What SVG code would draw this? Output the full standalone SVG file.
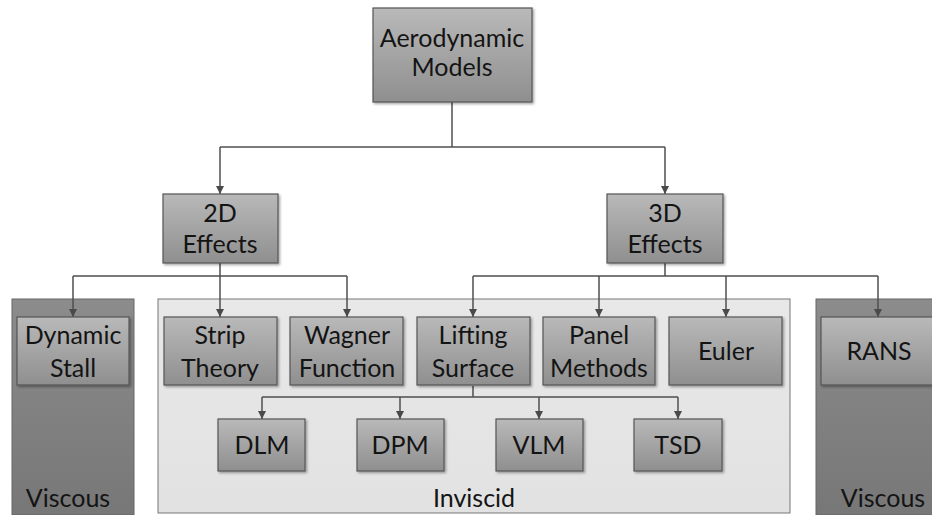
<svg xmlns="http://www.w3.org/2000/svg" width="932" height="515" viewBox="0 0 932 515">
<defs>
  <linearGradient id="boxg" x1="0" y1="0" x2="0" y2="1">
    <stop offset="0" stop-color="#b9b9b9"/>
    <stop offset="1" stop-color="#8f8f8f"/>
  </linearGradient>
  <linearGradient id="visg" x1="0" y1="0" x2="0" y2="1">
    <stop offset="0" stop-color="#8c8c8c"/>
    <stop offset="1" stop-color="#777777"/>
  </linearGradient>
  <linearGradient id="invg" x1="0" y1="0" x2="0" y2="1">
    <stop offset="0" stop-color="#e8e8e8"/>
    <stop offset="1" stop-color="#e2e2e2"/>
  </linearGradient>
  <filter id="sh" x="-10%" y="-10%" width="130%" height="130%">
    <feDropShadow dx="1.5" dy="1.5" stdDeviation="1" flood-color="#000" flood-opacity="0.35"/>
  </filter>
  <marker id="ah" viewBox="0 0 10 10" refX="10" refY="5" markerWidth="8" markerHeight="8" markerUnits="userSpaceOnUse" orient="auto">
    <path d="M0,0 L10,5 L0,10 z" fill="#4a4a4a"/>
  </marker>
</defs>
<style>
  .box { fill: url(#boxg); stroke: #555; stroke-width: 1.2; filter: url(#sh); }
  .vis { fill: url(#visg); stroke: #666; stroke-width: 1; }
  .inv { fill: url(#invg); stroke: #777; stroke-width: 1; }
  .t { font-family: Lato, "Liberation Sans", sans-serif; font-size: 25px; fill: #141414; text-anchor: middle; }
  .c { fill: none; stroke: #4f4f4f; stroke-width: 1.5; }
  .a { marker-end: url(#ah); }
</style>
<rect width="932" height="515" fill="#ffffff"/>

<g id="viscous-left">
  <rect class="vis" x="12" y="299" width="122" height="216"/>
  <text class="t" x="68" y="507">Viscous</text>
</g>
<g id="inviscid">
  <rect class="inv" x="158" y="299" width="632" height="214"/>
  <text class="t" x="474" y="507">Inviscid</text>
</g>
<g id="viscous-right">
  <rect class="vis" x="816" y="299" width="120" height="216"/>
  <text class="t" x="883" y="507">Viscous</text>
</g>

<g id="connectors">
  <path class="c" d="M452,102 V147"/>
  <path class="c" d="M220,147 H665"/>
  <path class="c a" d="M220,147 V194"/>
  <path class="c a" d="M665,147 V194"/>
  <path class="c" d="M220,263 V276 M73,276 H347"/>
  <path class="c a" d="M73,276 V317"/>
  <path class="c a" d="M220,276 V317"/>
  <path class="c a" d="M347,276 V317"/>
  <path class="c" d="M665,263 V276 M473,276 H878"/>
  <path class="c a" d="M473,276 V317"/>
  <path class="c a" d="M599,276 V317"/>
  <path class="c a" d="M726,276 V317"/>
  <path class="c a" d="M878,276 V317"/>
  <path class="c" d="M473,386 V397 M262,397 H678"/>
  <path class="c a" d="M262,397 V419"/>
  <path class="c a" d="M400,397 V419"/>
  <path class="c a" d="M539,397 V419"/>
  <path class="c a" d="M678,397 V419"/>
</g>

<g id="aerodynamic-models">
  <rect class="box" x="373" y="8" width="159" height="94"/>
  <text class="t" x="452" y="47">Aerodynamic</text>
  <text class="t" x="452" y="76">Models</text>
</g>
<g id="effects-2d">
  <rect class="box" x="163" y="194" width="115" height="69"/>
  <text class="t" x="220" y="222">2D</text>
  <text class="t" x="220" y="253">Effects</text>
</g>
<g id="effects-3d">
  <rect class="box" x="607" y="194" width="116" height="69"/>
  <text class="t" x="665" y="222">3D</text>
  <text class="t" x="665" y="253">Effects</text>
</g>
<g id="dynamic-stall">
  <rect class="box" x="17" y="317" width="112" height="68"/>
  <text class="t" x="73" y="344">Dynamic</text>
  <text class="t" x="73" y="377">Stall</text>
</g>
<g id="strip-theory">
  <rect class="box" x="164" y="317" width="113" height="68"/>
  <text class="t" x="220" y="344">Strip</text>
  <text class="t" x="220" y="377">Theory</text>
</g>
<g id="wagner-function">
  <rect class="box" x="290" y="317" width="113" height="68"/>
  <text class="t" x="347" y="344">Wagner</text>
  <text class="t" x="347" y="377">Function</text>
</g>
<g id="lifting-surface">
  <rect class="box" x="417" y="317" width="113" height="68"/>
  <text class="t" x="473" y="344">Lifting</text>
  <text class="t" x="473" y="377">Surface</text>
</g>
<g id="panel-methods">
  <rect class="box" x="543" y="317" width="112" height="68"/>
  <text class="t" x="599" y="344">Panel</text>
  <text class="t" x="599" y="377">Methods</text>
</g>
<g id="euler">
  <rect class="box" x="669" y="317" width="113" height="68"/>
  <text class="t" x="726" y="360">Euler</text>
</g>
<g id="rans">
  <rect class="box" x="821" y="317" width="115" height="68"/>
  <text class="t" x="879" y="360">RANS</text>
</g>
<g id="dlm">
  <rect class="box" x="218" y="419" width="87" height="52"/>
  <text class="t" x="262" y="454">DLM</text>
</g>
<g id="dpm">
  <rect class="box" x="357" y="419" width="87" height="52"/>
  <text class="t" x="400" y="454">DPM</text>
</g>
<g id="vlm">
  <rect class="box" x="496" y="419" width="87" height="52"/>
  <text class="t" x="539" y="454">VLM</text>
</g>
<g id="tsd">
  <rect class="box" x="634" y="419" width="88" height="52"/>
  <text class="t" x="678" y="454">TSD</text>
</g>
</svg>
